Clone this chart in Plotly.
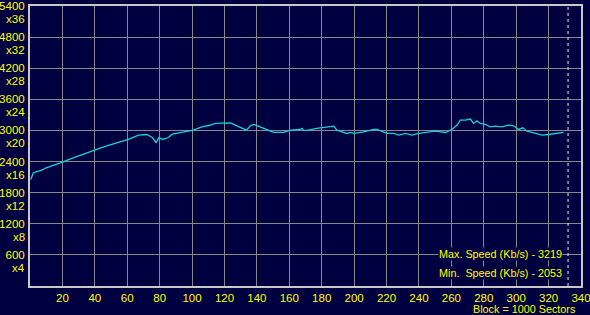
import plotly.graph_objects as go

# ---- data ----
block = [0.5, 2, 4, 7, 10, 14, 19.6, 25, 30, 35, 40, 45, 50, 55, 60.7, 66.9, 72, 75.5, 77.8,
         79.6, 81.7, 85.4, 87.8, 91, 95.7, 100.8, 106, 111, 114.4, 119, 123.6, 126.7, 131.8,
         133.5, 136, 138, 142, 148.3, 150.3, 156.5, 160.6, 166.8, 167.8, 168.8, 171, 177,
         183.3, 187.4, 189.4, 195.6, 197.7, 199.7, 205.9, 212, 214, 218.2, 220.3, 224.4,
         227.5, 231.6, 235.7, 239.8, 243.9, 250, 256.3, 260.4, 263.5, 265.5, 268.6, 271.7,
         273.7, 275.8, 277.8, 281, 284, 287, 291.2, 295.3, 298.4, 301.5, 304, 306.7, 309.7,
         316, 320, 326, 329.2]
speed = [2053, 2180, 2205, 2231, 2280, 2320, 2386, 2450, 2510, 2570, 2632, 2680, 2725, 2775,
         2826, 2909, 2922, 2864, 2768, 2864, 2826, 2864, 2928, 2950, 2973, 3006, 3070, 3100,
         3135, 3147, 3147, 3103, 3019, 3006, 3089, 3116, 3070, 2986, 2961, 2961, 3006, 3019,
         3039, 3006, 3000, 3039, 3070, 3083, 3006, 2942, 2961, 2942, 2973, 3019, 3019, 2973,
         2942, 2942, 2909, 2942, 2909, 2942, 2961, 2986, 2961, 3019, 3103, 3200, 3200, 3219,
         3135, 3186, 3135, 3116, 3070, 3083, 3070, 3103, 3089, 3019, 3051, 2986, 2961, 2909,
         2922, 2942, 2961]

x_ticks = list(range(20, 341, 20))
y_ticks = [600, 1200, 1800, 2400, 3000, 3600, 4200, 4800, 5400]
y_mult = ["x4", "x8", "x12", "x16", "x20", "x24", "x28", "x32", "x36"]
end_block = 332
max_text = "Max. Speed (Kb/s) - 3219"
min_text = "Min.&nbsp;&nbsp;Speed (Kb/s) - 2053"
x_title = "Block = 1000 Sectors"

BG = "#000040"
YEL = "#ffff00"
FONT = "Liberation Sans, Arial, sans-serif"
FS = 11.5
FS_TXT = 10.8

fig = go.Figure()
fig.add_trace(go.Scatter(x=block, y=speed, mode="lines",
                         line=dict(color="#14d2d8", width=1.3), hoverinfo="skip"))

fig.add_shape(type="line", xref="x", yref="paper", x0=end_block, x1=end_block, y0=0, y1=1,
              line=dict(color="#e8e8e8", width=1, dash="3px,3px"))

ann = []
for v, m in zip(y_ticks, y_mult):
    ann.append(dict(x=0, xref="paper", y=v, yref="y", text=m, showarrow=False,
                    xanchor="right", yanchor="middle", xshift=-3, yshift=-13,
                    font=dict(color=YEL, size=FS, family=FONT)))
ann.append(dict(x=(563 - 30) / 551, xref="paper", y=(286 - 253.5) / 280, yref="paper",
                text=max_text, showarrow=False, xanchor="right", yanchor="middle",
                bgcolor=BG, borderpad=0, font=dict(color=YEL, size=FS_TXT, family=FONT)))
ann.append(dict(x=(563 - 30) / 551, xref="paper", y=(286 - 272.5) / 280, yref="paper",
                text=min_text, showarrow=False, xanchor="right", yanchor="middle",
                bgcolor=BG, borderpad=0, font=dict(color=YEL, size=FS_TXT, family=FONT)))
ann.append(dict(x=(578 - 30) / 551, xref="paper", y=(286 - 308.5) / 280, yref="paper",
                text=x_title, showarrow=False, xanchor="right", yanchor="middle",
                font=dict(color=YEL, size=FS_TXT, family=FONT)))

fig.update_layout(
    width=590, height=315,
    margin=dict(l=30, r=9, t=6, b=29),
    paper_bgcolor=BG, plot_bgcolor=BG,
    showlegend=False,
    annotations=ann,
    xaxis=dict(range=[0, 340], tickvals=x_ticks, ticktext=[str(t) for t in x_ticks],
               showgrid=True, gridcolor="#888888", gridwidth=1,
               showline=True, linecolor="#c8c8c8", linewidth=2, mirror=True,
               ticks="", zeroline=False, automargin=False, ticklabeloverflow="allow",
               ticklabelstandoff=0,
               tickfont=dict(color=YEL, size=FS, family=FONT)),
    yaxis=dict(range=[0, 5400], tickvals=y_ticks, ticktext=[str(t) for t in y_ticks],
               showgrid=True, gridcolor="#888888", gridwidth=1,
               showline=True, linecolor="#c8c8c8", linewidth=2, mirror=True,
               ticks="", zeroline=False, ticklabelstandoff=1, automargin=False,
               ticklabeloverflow="allow",
               tickfont=dict(color=YEL, size=FS, family=FONT)),
)

fig.write_html("out.html")
